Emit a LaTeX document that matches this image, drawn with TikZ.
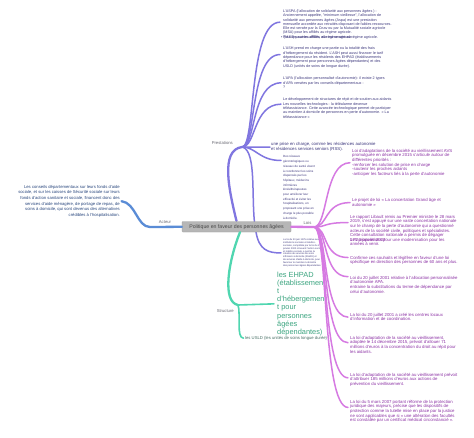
\documentclass[tikz,border=0pt]{standalone}
\usepackage{fontspec}
\setmainfont{Liberation Sans}
\definecolor{purp}{RGB}{128,118,224}
\definecolor{pinkb}{RGB}{214,122,226}
\definecolor{tealb}{RGB}{80,214,176}
\definecolor{blueb}{RGB}{90,140,214}
\definecolor{ptext}{RGB}{60,55,125}
\definecolor{pktext}{RGB}{140,50,165}
\definecolor{atext}{RGB}{40,70,125}
\definecolor{ttext}{RGB}{60,165,128}
\definecolor{utext}{RGB}{70,110,100}
\definecolor{lab}{RGB}{105,105,115}
\definecolor{ctrfill}{RGB}{182,182,182}
\definecolor{ctrtext}{RGB}{70,70,70}
\begin{document}
\begin{tikzpicture}[x=1pt,y=-1pt,
  txt/.style={anchor=north west,inner sep=0pt,align=left},
  ptxt/.style={txt,text=ptext,font=\fontsize{3.7}{4.3}\selectfont},
  pktxt/.style={txt,text=pktext,font=\fontsize{4.3}{4.6}\selectfont},
  lbl/.style={inner sep=0pt,text=lab,font=\fontsize{4.2}{5}\selectfont},
  pbr/.style={draw=purp,line width=1.5pt,line cap=round},
  pmain/.style={draw=purp,line width=2.3pt,line cap=round},
  pkbr/.style={draw=pinkb,line width=1.5pt,line cap=round},
  pkmain/.style={draw=pinkb,line width=2.3pt,line cap=round},
  tbr/.style={draw=tealb,line width=1.6pt,line cap=round},
  tmain/.style={draw=tealb,line width=2.3pt,line cap=round},
  bmain/.style={draw=blueb,line width=2.3pt,line cap=round}]
\useasboundingbox (0,0) rectangle (474,438);
\fill[white] (0,0) rectangle (474,438);

% ---------- Prestations texts ----------
\node[ptxt] (t1) at (283,9.5) {L'ASPA (l'allocation de solidarité aux personnes âgées ) :\\
Anciennement appelée, "minimum vieillesse", l'allocation de\\
solidarité aux personnes âgées (Aspa) est une prestation\\
mensuelle accordée aux retraités disposant de faibles ressources.\\
Elle est versée par la Cnav ou par la Mutualité sociale agricole\\
(MSA) pour les affiliés au régime agricole.};
\node[ptxt] (t1b) at (281,35.4) {•\,Pour les autres affiliés, elle est versée au régime agricole.};
\node[ptxt] (t1c) at (284,35.8) {(MSA) pour les affiliés au régime agricole.};
\node[ptxt] (t2) at (283,47) {L'ASH prend en charge une partie ou la totalité des frais\\
d'hébergement du résident. L'ASH peut aussi financer le tarif\\
dépendance pour les résidents des EHPAD (établissements\\
d'hébergement pour personnes âgées dépendantes) et des\\
USLD (unités de soins de longue durée).};
\node[ptxt] (t3) at (283,77) {L'APA (l'allocation personnalisé d'autonomie): il existe 2 types\\
d'APA versées par les conseils départementaux :\\
?};
\node[ptxt] (t4) at (283,98) {Le développement de structures de répit et de soutien aux aidants\\
Les nouvelles technologies : la téléalarme devenue\\
téléassistance. Cette avancée technologique permet de participer\\
au maintien à domicile de personnes en perte d'autonomie. « La\\
téléassistance »};
\node[txt,text=ptext,font=\fontsize{4.3}{5}\selectfont] (prise) at (271,142.5) {une prise en charge, comme les résidences autonomie\\
et résidences services seniors (RSS).};
\node[txt,text=ptext,font=\fontsize{3}{4.7}\selectfont] (res) at (283,155.5) {Des réseaux\\
gérontologiques ou\\
réseaux de santé visent\\
à coordonner les soins\\
dispensés par les\\
hôpitaux, médecins\\
infirmières\\
kinésithérapeutes\\
pour améliorer leur\\
efficacité et éviter les\\
hospitalisations, en\\
proposant une prise en\\
charge le plus possible\\
à domicile.};
\node[txt,text=ptext,font=\fontsize{2.4}{2.8}\selectfont] (tiny) at (283,239) {La loi du 30 juin 1975 relative aux\\
institutions sociales et médico-\\
sociales, complétée par la loi du 2\\
janvier 2002 rénovant l'action sociale\\
et médico-sociale, a permis la\\
création de services de soins\\
infirmiers à domicile (SSIAD) et\\
de services d'aide à domicile, pour\\
favoriser le maintien à domicile\\
des personnes âgées dépendantes.};

% ---------- Lois texts ----------
\node[pktxt] (a) at (352,149) {Loi d'adaptations de la société au vieillissement AVS\\
promulguée en décembre 2015 s'articule autour de\\
différentes priorités :\\
-renforcer les solution de prise en charge\\
-soutenir les proches aidants\\
-anticiper les facteurs liés à la perte d'autonomie};
\node[pktxt] (b) at (352,198.5) {Le projet de loi « La concertation Grand âge et\\
autonomie »};
\node[pktxt] (c) at (350,215) {Le rapport Libault remis au Premier ministre le 28 mars\\
2019, s'est appuyé sur une vaste concertation nationale\\
sur le champ de la perte d'autonomie qui a questionné\\
acteurs de la société civile, politiques et spécialistes.\\
Cette consultation nationale a permis de dégager\\
175 propositions pour une modernisation pour les\\
années à venir.};
\node[pktxt] (c2) at (350,238.3) {Le 24 janvier 2007};
\node[pktxt] (d) at (350,256) {Confirme ces souhaits et légifère en faveur d'une loi\\
spécifique en direction des personnes de 60 ans et plus.};
\node[pktxt] (e) at (350,276) {Loi du 20 juillet 2001 relative à l'allocation personnalisée\\
d'autonomie APA.\\
entraine la substitutions du terme de dépendance par\\
celui d'autonomie.};
\node[pktxt] (f) at (350,313) {La loi du 20 juillet 2001 a créé les centres locaux\\
d'information et de coordination.};
\node[pktxt] (g) at (350,336) {La loi d'adaptation de la société au vieillissement,\\
adoptée le 14 décembre 2015, prévoit d'allouer 71\\
millions d'euros à la concentration du droit au répit pour\\
les aidants.};
\node[pktxt] (h) at (350,373) {La loi d'adaptation de la société au vieillissement prévoit\\
d'attribuer 185 millions d'euros aux actions de\\
prévention du vieillissement.};
\node[pktxt] (i) at (350,400) {La loi du 5 mars 2007 portant réforme de la protection\\
juridique des majeurs, précise que les dispositifs de\\
protection comme la tutelle mise en place par la justice\\
ne sont applicables que si « une altération des facultés\\
est constatée par un certificat médical circonstancié ».};

% ---------- Structure texts ----------
\node[txt,text=ttext,font=\fontsize{7.4}{8.2}\selectfont] (ehpad) at (277,271.5) {les EHPAD\\
(établissemen\\
t\\
d'hébergemen\\
t pour\\
personnes\\
âgées\\
dépendantes)};
\node[txt,text=utext,font=\fontsize{4.2}{5}\selectfont] (usld) at (245,336) {les USLD (les unités de soins longue durée)};

% ---------- Acteur text ----------
\node[anchor=north east,inner sep=0pt,align=right,text=atext,font=\fontsize{4.2}{5.6}\selectfont] (act) at (120,185) {Les conseils départementaux sur leurs fonds d'aide\\
sociale, et sur les caisses de Sécurité sociale sur leurs\\
fonds d'action sanitaire et sociale, financent donc des\\
services d'aide ménagère, de portage de repas, de\\
soins à domicile, qui sont devenus des alternatives\\
crédibles à l'hospitalisation.};

% ---------- hubs ----------
\coordinate (ph) at (242,147);
\coordinate (lh) at (314,227);
\coordinate (sh) at (238,305);
\coordinate (ah) at (150,227);

% ---------- Prestations branches ----------
\draw[pbr] (ph) .. controls +(14,0) and +(-32,0) .. ([xshift=-3pt]t1.west);
\draw[pbr] (ph) .. controls +(14,0) and +(-30,0) .. ([xshift=-3pt,yshift=3pt]t2.west);
\draw[pbr] (ph) .. controls +(14,0) and +(-30,0) .. ([xshift=-2pt]t3.west);
\draw[pbr] (ph) .. controls +(14,0) and +(-28,0) .. ([xshift=-2pt,yshift=4pt]t4.west);
\draw[pbr] (ph) .. controls +(10,0) and +(-10,0) .. ([xshift=-1pt]prise.west);
\draw[pbr] (ph) .. controls +(14,0) and +(-22,0) .. ([xshift=-2pt,yshift=-5pt]res.north west);
\draw[pbr] (ph) .. controls (258,150) and (250,205) .. (256,232) .. controls (259,250) and (268,253) .. ([xshift=-2pt]tiny.west);
\draw[pmain] (ph) .. controls (220,150) and (229,190) .. (236.5,221);

% ---------- Lois branches ----------
\foreach \n/\s in {a/0,b/0,c/8,d/3,e/8,f/0,g/2,h/2,i/4}{
  \draw[pkbr] (lh) .. controls +(14,0) and +(-26,0) .. ([xshift=-2pt,yshift=\s pt]\n.west);
}

% ---------- Structure branches ----------
\draw[tbr] (sh) -- ([xshift=-3pt]ehpad.west);
\draw[tbr] (sh) .. controls (241,314) and (236,338) .. ([xshift=-1.5pt]usld.west);

% ---------- centre ----------
\node[fill=ctrfill,draw=ctrfill!85!black,line width=0.3pt,rounded corners=0.8pt,text=ctrtext,
  font=\fontsize{5.2}{6}\selectfont,minimum width=109pt,minimum height=10.5pt,inner sep=1.5pt] (ctr) at (236.5,226.8) {Politique en faveur des personnes âgées};

\draw[tmain] ([xshift=3.5pt]ctr.south) .. controls (228,262) and (222,302) .. (sh);
\draw[pkmain] (ctr.east) -- (lh);
\draw[bmain] (ctr.west) -- (ah) .. controls (137,227) and (136,203) .. ([xshift=1.5pt]act.east);

% ---------- labels ----------
\node[lbl,anchor=south east] (lp) at (233,144.5) {Prestations};
\node[lbl,anchor=south] (la) at (165,224) {Acteur};
\node[lbl,anchor=east] (ls) at (234,311) {Structure};
\node[lbl,anchor=south] (ll) at (307.5,224.5) {Lois};
\end{tikzpicture}
\end{document}
